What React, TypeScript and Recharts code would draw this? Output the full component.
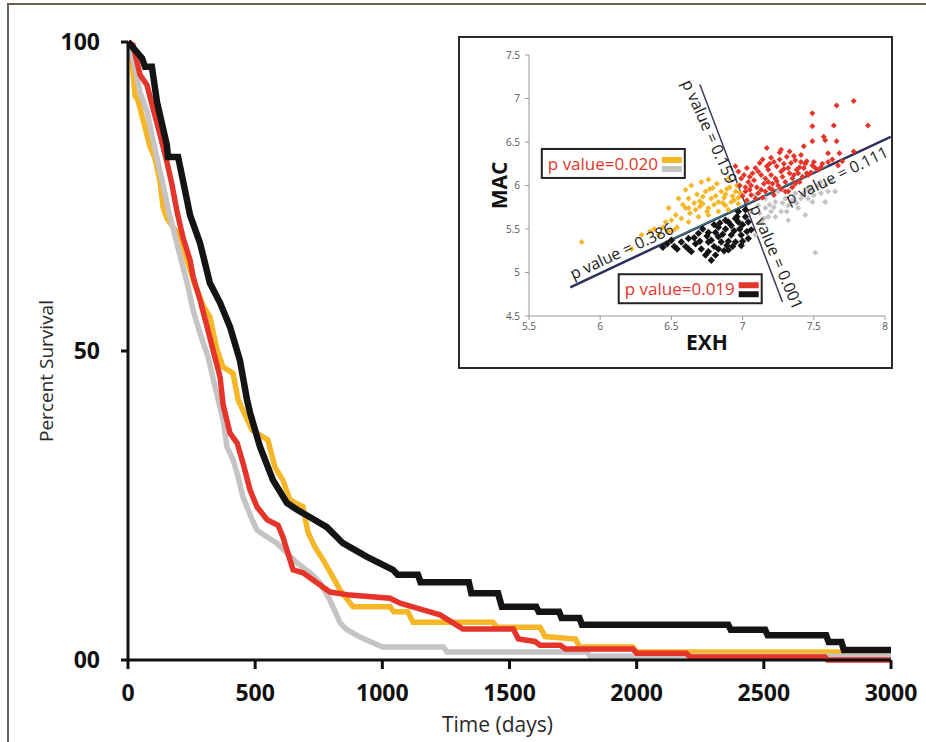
import {
  LineChart,
  Line,
  XAxis,
  YAxis,
  ScatterChart,
  Scatter,
  ReferenceLine,
  ReferenceDot,
} from "recharts";

// main Kaplan-Meier panel
const timeTicks = [0, 500, 1000, 1500, 2000, 2500, 3000];
const survivalTicks = [0, 50, 100];

// [days, percent survival]
const blackCurve = [
  [0, 100], [28, 98.7], [55, 97.4], [67, 96], [94, 96], [114, 90.3], [153, 83.3], [157, 81.4], [197, 81.4],
  [232, 74.4], [244, 72], [283, 67.5], [322, 61], [362, 57.8], [401, 53.9], [440, 48.5], [468, 42.1], [480, 40],
  [519, 34.5], [570, 29.1], [625, 25.4], [665, 24.3], [716, 23.1], [782, 21.5], [845, 18.9], [940, 16.7],
  [1042, 14.6], [1060, 13.8], [1140, 13.8], [1150, 12.6], [1340, 12.6], [1350, 10.8], [1455, 10.8], [1470, 8.6],
  [1605, 8.6], [1615, 7.8], [1695, 7.8], [1705, 6.8], [1775, 6.8], [1785, 5.7], [2360, 5.7], [2370, 4.9],
  [2505, 4.9], [2515, 4.0], [2745, 4.0], [2755, 2.9], [2805, 2.9], [2815, 1.6], [3000, 1.6],
];
const redCurve = [
  [0, 100], [20, 99.5], [47, 94.7], [75, 93], [98, 89.3], [126, 85], [153, 80.6], [173, 76.9], [193, 72.5],
  [216, 68.4], [244, 64.7], [256, 62], [283, 58.3], [311, 53.9], [334, 50.2], [362, 45.8], [374, 41.3],
  [401, 36.7], [429, 35.1], [452, 31.9], [480, 27.5], [507, 24.8], [547, 22.7], [590, 21.8], [609, 19.9],
  [637, 16.2], [649, 14.6], [688, 14.1], [743, 12.5], [794, 11], [873, 10.5], [1030, 10], [1070, 9.2],
  [1160, 8.1], [1227, 7.3], [1278, 6], [1317, 5], [1515, 5], [1535, 3.4], [1600, 3], [1620, 2.4], [1700, 2.4],
  [1720, 1.8], [1985, 1.8], [2000, 1.1], [2195, 1.1], [2210, 0.5], [2740, 0.5], [2750, 0], [3000, 0],
];
const yellowCurve = [
  [0, 100], [8, 97.9], [16, 96.8], [28, 91.3], [39, 90.6], [87, 83], [106, 81.2], [126, 77.4], [138, 73.2],
  [153, 71.5], [185, 69.6], [204, 68.8], [232, 64.7], [263, 60.7], [295, 57.4], [322, 55.5], [350, 50.2],
  [374, 47.4], [413, 46.4], [433, 42.1], [488, 37.2], [550, 35.6], [578, 31.2], [609, 29.1], [637, 25.9],
  [688, 24.8], [708, 20.6], [735, 18.3], [767, 16.2], [806, 13.4], [834, 11.3], [885, 8.6], [1030, 8.6],
  [1045, 7.8], [1100, 7.8], [1121, 6.1], [1435, 6.1], [1450, 5.3], [1620, 5.3], [1640, 3.8], [1760, 3.4],
  [1775, 2.1], [1985, 2.1], [2000, 1.3], [2800, 1.3], [2812, 0.6], [3000, 0.6],
];
const grayCurve = [
  [0, 100], [16, 97.9], [28, 95.8], [47, 91.9], [75, 88.7], [94, 85], [114, 81.2], [138, 76.9], [157, 73.1],
  [177, 69.9], [204, 65.5], [236, 60.4], [256, 56.6], [283, 52.9], [315, 49], [342, 44.2], [362, 40.9],
  [374, 38.8], [389, 34.5], [413, 32.4], [433, 29.6], [452, 26.4], [488, 22.7], [507, 21], [547, 19.9],
  [586, 18.9], [625, 17.3], [665, 15.7], [716, 14.1], [755, 12.5], [794, 9.7], [834, 6], [861, 4.9],
  [912, 3.7], [963, 2.8], [1000, 2.1], [1240, 2.1], [1254, 1.3], [1805, 1.3], [1817, 0.6], [3000, 0.6],
];

// inset scatter, [EXH, MAC]
const exhTicks = [5.5, 6, 6.5, 7, 7.5, 8];
const macTicks = [4.5, 5, 5.5, 6, 6.5, 7, 7.5];

const redPoints = [
  [7.78, 6.97], [7.66, 6.92], [7.88, 6.69], [7.64, 6.69], [7.49, 6.83], [7.49, 6.68], [7.57, 6.56], [7.49, 6.51],
  [7.58, 6.52], [7.66, 6.51], [7.78, 6.39], [7.68, 6.37], [7.6, 6.37], [7.43, 6.45], [7.41, 6.35], [7.17, 6.43],
  [7.27, 6.41], [7.33, 6.39], [7.22, 6.27], [7.29, 6.25], [7.37, 6.29], [7.44, 6.25], [7.49, 6.23], [7.5, 6.27],
  [7.09, 6.2], [7.13, 6.12], [7.18, 6.18], [7.23, 6.08], [7.27, 6.16], [7.32, 6.2], [7.35, 6.08], [7.39, 6.14],
  [7.43, 6.2], [7.46, 6.12], [7.04, 6.04], [7.1, 5.98], [7.15, 6.02], [7.19, 5.97], [7.25, 6.0], [7.3, 6.04],
  [7.37, 6.02], [7.02, 5.93], [7.06, 5.89], [7.11, 5.91], [7.16, 5.93], [7.22, 5.89], [7.03, 5.83], [6.97, 6.16],
  [6.95, 6.22], [6.99, 6.08], [7.56, 6.25], [7.6, 6.27], [7.67, 6.23], [7.32, 5.93], [7.41, 6.27], [7.24, 6.22],
  [7.51, 6.2], [7.53, 6.18], [7.02, 5.98], [7.16, 6.08], [7.2, 6.12], [7.3, 5.93], [7.08, 6.06], [7.12, 6.26],
  [7.2, 6.32], [7.26, 6.3], [7.34, 6.26], [7.38, 6.18], [7.42, 6.1], [7.45, 6.14], [7.28, 6.1], [7.14, 5.86],
  [7.05, 6.1], [7.0, 5.88], [7.24, 6.05], [7.36, 6.12], [7.48, 6.15], [7.31, 6.33], [7.07, 6.14], [7.18, 6.04],
  [7.4, 6.04], [6.98, 6.0], [7.06, 6.0], [7.13, 5.95], [7.21, 5.95], [7.27, 5.96], [7.35, 5.98], [7.11, 6.16],
  [7.17, 6.22], [7.29, 6.19], [7.33, 6.14], [7.4, 6.21], [7.45, 6.28], [7.55, 6.21], [7.63, 6.3], [7.7, 6.28],
  [7.05, 5.95], [7.09, 5.85], [7.26, 6.38], [7.36, 6.34], [7.21, 6.02], [7.01, 6.12], [7.03, 6.2], [7.14, 6.3],
  [7.19, 6.25],
];
const yellowPoints = [
  [5.87, 5.35], [6.76, 6.07], [6.64, 6.0], [6.48, 5.74], [6.55, 5.85], [6.6, 5.74], [6.67, 5.72], [6.72, 5.79],
  [6.78, 5.85], [6.83, 5.81], [6.88, 5.77], [6.92, 5.81], [6.95, 5.93], [6.85, 5.93], [6.79, 5.97], [6.74, 5.93],
  [6.62, 5.85], [6.53, 5.66], [6.46, 5.58], [6.38, 5.5], [6.48, 5.47], [6.54, 5.52], [6.62, 5.58], [6.69, 5.64],
  [6.76, 5.66], [6.83, 5.7], [6.9, 5.72], [6.97, 5.79], [6.29, 5.43], [6.22, 5.27], [6.9, 6.08], [6.97, 5.86],
  [6.71, 6.04], [6.41, 5.43], [6.62, 5.74], [6.76, 5.74], [6.68, 5.9], [6.81, 5.88], [6.87, 5.86], [6.93, 5.88],
  [6.58, 5.78], [6.7, 5.82], [6.75, 5.7], [6.88, 5.9], [6.91, 5.98], [6.82, 6.02], [6.57, 5.62], [6.44, 5.52],
  [6.35, 5.47], [6.98, 5.92], [6.63, 5.68], [6.72, 5.87], [6.8, 5.78], [6.86, 5.8], [6.94, 5.83], [6.66, 5.8],
  [6.5, 5.6], [6.6, 5.95], [6.77, 5.96], [6.89, 5.96], [6.96, 6.0], [6.52, 5.49], [6.7, 5.76],
];
const blackPoints = [
  [6.44, 5.29], [6.54, 5.27], [6.62, 5.39], [6.78, 5.14], [6.71, 5.27], [6.76, 5.35], [6.83, 5.41], [6.88, 5.5],
  [6.92, 5.54], [6.97, 5.58], [7.02, 5.64], [6.99, 5.43], [7.04, 5.39], [6.99, 5.31], [6.95, 5.35], [6.89, 5.31],
  [6.83, 5.27], [6.76, 5.24], [6.67, 5.33], [6.57, 5.35], [6.5, 5.37], [6.69, 5.45], [6.76, 5.46], [6.83, 5.52],
  [6.9, 5.58], [6.96, 5.64], [7.02, 5.72], [7.04, 5.58], [7.06, 5.49], [6.78, 5.37], [6.85, 5.35], [6.92, 5.43],
  [6.98, 5.5], [6.64, 5.24], [6.62, 5.27], [6.81, 5.2], [6.9, 5.26], [6.97, 5.7], [6.88, 5.6], [6.81, 5.46],
  [6.6, 5.3], [6.66, 5.4], [6.72, 5.5], [6.74, 5.2], [6.8, 5.3], [6.86, 5.44], [6.9, 5.36], [6.94, 5.48],
  [7.0, 5.55], [7.03, 5.47], [6.47, 5.33], [6.52, 5.3], [6.7, 5.36], [6.84, 5.57], [6.95, 5.62], [6.87, 5.25],
  [6.75, 5.42], [7.0, 5.36], [6.93, 5.3], [6.8, 5.55],
];
const grayPoints = [
  [7.51, 5.23], [7.65, 5.93], [7.58, 5.81], [7.44, 5.66], [7.32, 5.6], [7.23, 5.64], [7.16, 5.74], [7.23, 5.81],
  [7.3, 5.85], [7.37, 5.91], [7.46, 5.97], [7.53, 6.0], [7.55, 6.04], [7.41, 5.85], [7.32, 5.77], [7.2, 5.7],
  [7.11, 5.77], [7.06, 5.7], [7.13, 5.58], [7.09, 5.43], [7.16, 5.85], [7.25, 5.93], [7.34, 5.97], [7.6, 5.93],
  [7.27, 5.7], [7.39, 5.74], [7.49, 5.81], [7.18, 5.64], [7.09, 5.89], [7.44, 5.93], [7.5, 5.89], [7.55, 5.91],
  [7.12, 5.68], [7.19, 5.78], [7.28, 5.8], [7.35, 5.83], [7.42, 5.9], [7.48, 5.95], [7.15, 5.62], [7.22, 5.75],
  [7.31, 5.7], [7.38, 5.8], [7.46, 5.85], [7.58, 6.0], [7.62, 6.05],
];

// fitted division lines and their p values
const lineA = [[5.79, 4.83], [8.04, 6.56]];
const lineB = [[6.7, 7.16], [7.28, 4.66]];
const pLabels = [
  { x: 6.15, y: 5.25, text: "p value = 0.386", angle: -25 },
  { x: 7.66, y: 6.12, text: "p value = 0.111", angle: -26 },
  { x: 6.77, y: 6.62, text: "p value = 0.159", angle: 66 },
  { x: 7.24, y: 5.18, text: "p value = 0.001", angle: 67 },
];

const COLORS = { black: "#141414", red: "#e5352b", yellow: "#f5b628", gray: "#c5c3c3" };
const FONT = "'Open Sans', 'DejaVu Sans', sans-serif";

const toCurve = (arr: number[][]) => arr.map(([t, s]) => ({ t, s }));
const toXY = (arr: number[][]) => arr.map(([x, y]) => ({ x, y }));

function Diamond({ cx, cy, r, fill }: any) {
  return <path d={`M${cx},${cy - r}L${cx + r},${cy}L${cx},${cy + r}L${cx - r},${cy}Z`} fill={fill} />;
}

function LegendBox({ cx, cy, text, top, bottom }: any) {
  return (
    <g>
      <rect x={cx} y={cy} width={143} height={29} fill="#fff" stroke="#222" strokeWidth={2} />
      <text x={cx + 6} y={cy + 21} fontSize={17} fontFamily={FONT} fill={COLORS.red}>
        {text}
      </text>
      <rect x={cx + 120} y={cy + 8} width={20} height={6} fill={top} />
      <rect x={cx + 120} y={cy + 17} width={20} height={6} fill={bottom} />
    </g>
  );
}

function Inset() {
  return (
    <div style={{ position: "absolute", left: 460, top: 38, width: 431, height: 329, background: "#fff", outline: "2px solid #2a2a2a" }}>
      <ScatterChart width={431} height={329} margin={{ top: 17, right: 6, left: 0, bottom: 0 }}>
        <XAxis
          type="number"
          dataKey="x"
          domain={[5.5, 8]}
          ticks={exhTicks}
          height={51}
          stroke="#999"
          tickSize={4}
          tickMargin={3}
          tick={{ fontSize: 10, fill: "#555", fontFamily: FONT }}
          label={({ viewBox }: any) => (
            <text x={viewBox.x + viewBox.width / 2} y={viewBox.y + 34} textAnchor="middle" fontSize={21} fontWeight={700} fontFamily={FONT} fill="#111">
              EXH
            </text>
          )}
        />
        <YAxis
          type="number"
          dataKey="y"
          domain={[4.5, 7.5]}
          ticks={macTicks}
          width={69}
          stroke="#999"
          tickSize={4}
          tickMargin={5}
          tick={{ fontSize: 10, fill: "#555", fontFamily: FONT }}
          label={({ viewBox }: any) => {
            const x = viewBox.x + 47;
            const y = viewBox.y + viewBox.height / 2;
            return (
              <text x={x} y={y} transform={`rotate(-90 ${x} ${y})`} textAnchor="middle" fontSize={21} fontWeight={700} fontFamily={FONT} fill="#111">
                MAC
              </text>
            );
          }}
        />
        <Scatter data={toXY(grayPoints)} isAnimationActive={false} shape={(p: any) => <Diamond cx={p.cx} cy={p.cy} r={3} fill={COLORS.gray} />} />
        <Scatter data={toXY(yellowPoints)} isAnimationActive={false} shape={(p: any) => <Diamond cx={p.cx} cy={p.cy} r={3} fill={COLORS.yellow} />} />
        <Scatter data={toXY(redPoints)} isAnimationActive={false} shape={(p: any) => <Diamond cx={p.cx} cy={p.cy} r={3} fill={COLORS.red} />} />
        <Scatter data={toXY(blackPoints)} isAnimationActive={false} shape={(p: any) => <Diamond cx={p.cx} cy={p.cy} r={3.7} fill={COLORS.black} />} />
        <ReferenceLine segment={lineA.map(([x, y]) => ({ x, y }))} stroke="#2d2d5e" strokeWidth={2.5} ifOverflow="visible" />
        <ReferenceLine segment={[{ x: 6.5, y: 5.38 }, { x: 7.6, y: 6.23 }]} stroke="#3b8a78" strokeWidth={1.2} ifOverflow="visible" />
        <ReferenceLine segment={lineB.map(([x, y]) => ({ x, y }))} stroke="#3c3c5c" strokeWidth={1.5} ifOverflow="visible" />
        {pLabels.map((l) => (
          <ReferenceDot
            key={l.text}
            x={l.x}
            y={l.y}
            r={0}
            ifOverflow="visible"
            shape={(p: any) => (
              <text x={p.cx} y={p.cy} transform={`rotate(${l.angle} ${p.cx} ${p.cy})`} textAnchor="middle" dominantBaseline="central" fontSize={16} fontFamily={FONT} fill="#222">
                {l.text}
              </text>
            )}
          />
        ))}
        <ReferenceDot x={5.59} y={6.42} r={0} ifOverflow="visible" shape={(p: any) => <LegendBox cx={p.cx} cy={p.cy} text="p value=0.020" top={COLORS.yellow} bottom={COLORS.gray} />} />
        <ReferenceDot x={6.13} y={4.98} r={0} ifOverflow="visible" shape={(p: any) => <LegendBox cx={p.cx} cy={p.cy} text="p value=0.019" top={COLORS.red} bottom={COLORS.black} />} />
      </ScatterChart>
    </div>
  );
}

export default function App() {
  const tickStyle = { fontSize: 23, fontWeight: 700, fill: "#111", fontFamily: FONT };
  return (
    <div style={{ position: "absolute", left: 0, top: 0, width: 926, height: 742, background: "#fff", overflow: "hidden" }}>
      <div style={{ position: "absolute", left: 7, top: 3, width: 930, height: 760, borderTop: "2px solid #6a5d55", borderLeft: "2px solid #6a5d55" }} />
      <LineChart width={926} height={742} margin={{ top: 42, right: 35, left: 0, bottom: 0 }}>
        <XAxis
          type="number"
          dataKey="t"
          domain={[0, 3000]}
          ticks={timeTicks}
          allowDataOverflow
          height={82}
          stroke="#111"
          strokeWidth={3}
          tickSize={9}
          tickMargin={16}
          tick={tickStyle}
          tickLine={{ stroke: "#111", strokeWidth: 3 }}
          label={({ viewBox }: any) => (
            <text x={viewBox.x + viewBox.width / 2 - 12} y={viewBox.y + 72} textAnchor="middle" fontSize={21} fontFamily={FONT} fill="#2a2a2a">
              Time (days)
            </text>
          )}
        />
        <YAxis
          type="number"
          domain={[0, 100]}
          ticks={survivalTicks}
          width={128}
          stroke="#111"
          strokeWidth={3}
          tickSize={7}
          tickMargin={21}
          tick={tickStyle}
          tickLine={{ stroke: "#111", strokeWidth: 3 }}
          tickFormatter={(v: number) => (v === 0 ? "00" : String(v))}
          label={({ viewBox }: any) => {
            const x = viewBox.x + 46;
            const y = viewBox.y + viewBox.height / 2 + 20;
            return (
              <text x={x} y={y} transform={`rotate(-90 ${x} ${y})`} textAnchor="middle" dominantBaseline="central" fontSize={19} fontFamily={FONT} fill="#2a2a2a">
                Percent Survival
              </text>
            );
          }}
        />
        <Line data={toCurve(yellowCurve)} dataKey="s" type="linear" stroke={COLORS.yellow} strokeWidth={5.5} dot={false} isAnimationActive={false} />
        <Line data={toCurve(grayCurve)} dataKey="s" type="linear" stroke={COLORS.gray} strokeWidth={5.5} dot={false} isAnimationActive={false} />
        <Line data={toCurve(redCurve)} dataKey="s" type="linear" stroke={COLORS.red} strokeWidth={5.5} dot={false} isAnimationActive={false} />
        <Line data={toCurve(blackCurve)} dataKey="s" type="linear" stroke={COLORS.black} strokeWidth={6.5} dot={false} isAnimationActive={false} />
      </LineChart>
      <Inset />
    </div>
  );
}
